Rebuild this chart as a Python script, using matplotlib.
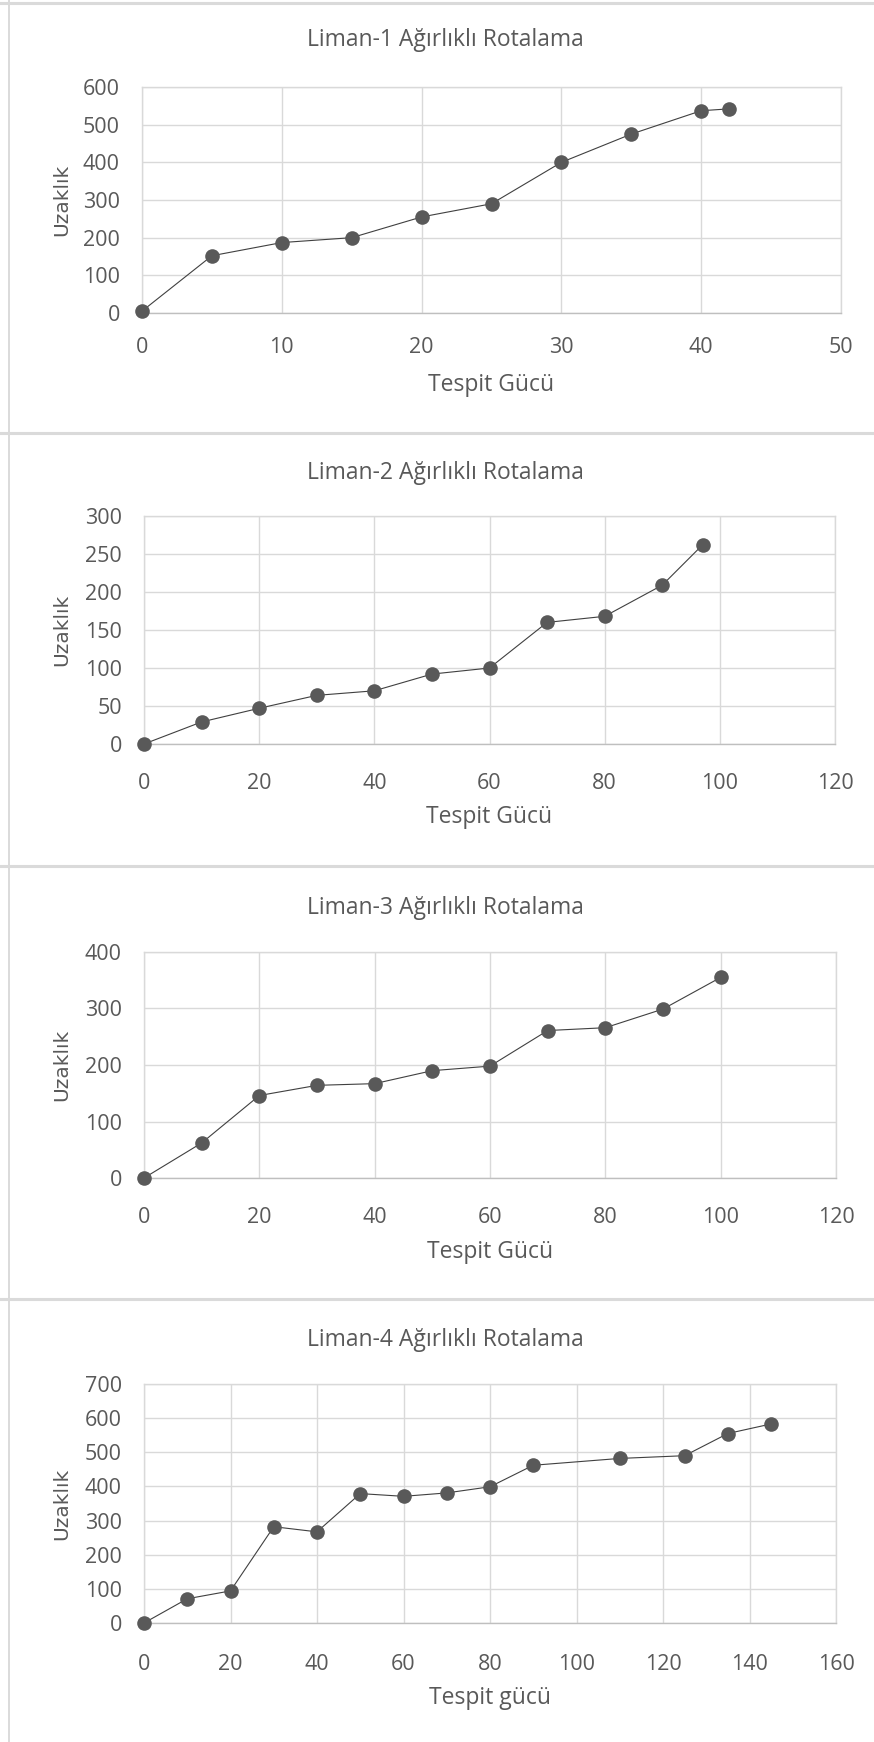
import matplotlib
matplotlib.use("Agg")
import matplotlib.pyplot as plt
from matplotlib.lines import Line2D

# Figure size in pixels
W, H = 874, 1742
DPI = 100

GRAY_TXT = "#595959"
GRID = "#d9d9d9"
AXIS = "#bfbfbf"
MARK = "#595959"

# Liman-1
liman1_x = [0, 5, 10, 15, 20, 25, 30, 35, 40, 42]
liman1_y = [5, 152, 187, 200, 255, 290, 400, 475, 537, 542]

# Liman-2
liman2_x = [0, 10, 20, 30, 40, 50, 60, 70, 80, 90, 97]
liman2_y = [0, 29, 47, 64, 70, 92, 100, 160, 168, 209, 262]

# Liman-3
liman3_x = [0, 10, 20, 30, 40, 50, 60, 70, 80, 90, 100]
liman3_y = [0, 62, 146, 164, 167, 190, 198, 261, 266, 299, 355]

# Liman-4
liman4_x = [0, 10, 20, 30, 40, 50, 60, 70, 80, 90, 110, 125, 135, 145]
liman4_y = [0, 71, 94, 282, 267, 379, 371, 381, 399, 462, 482, 490, 555, 583]

titles = ["Liman-1 Ağırlıklı Rotalama", "Liman-2 Ağırlıklı Rotalama",
          "Liman-3 Ağırlıklı Rotalama", "Liman-4 Ağırlıklı Rotalama"]
xlabels = ["Tespit Gücü", "Tespit Gücü", "Tespit Gücü", "Tespit gücü"]
ylabel = "Uzaklık"

xticks = [range(0, 51, 10), range(0, 121, 20), range(0, 121, 20), range(0, 161, 20)]
yticks = [range(0, 601, 100), range(0, 301, 50), range(0, 401, 100), range(0, 701, 100)]

series = [(liman1_x, liman1_y), (liman2_x, liman2_y),
          (liman3_x, liman3_y), (liman4_x, liman4_y)]

# plot boxes in pixels: left, right, top, bottom
boxes = [(142, 841, 87, 313), (144, 835, 516, 744),
         (144, 836, 952, 1178), (144, 836, 1384, 1623)]
title_y = [40, 473, 908, 1340]
xlabel_y = [385, 817, 1252, 1698]
xpad = [17, 21, 21, 22]

plt.rcParams["font.family"] = ["Open Sans", "DejaVu Sans"]

fig = plt.figure(figsize=(W / DPI, H / DPI), dpi=DPI)
fig.patch.set_facecolor("white")

# panel frames
for y in [3, 433, 866, 1299]:
    fig.add_artist(Line2D([0, 1], [1 - y / H, 1 - y / H], transform=fig.transFigure,
                          color="#dadada", lw=2.2))
fig.add_artist(Line2D([9 / W, 9 / W], [0, 1], transform=fig.transFigure,
                      color="#dadada", lw=1.4))

for i in range(4):
    l, r, t, b = boxes[i]
    ax = fig.add_axes([l / W, 1 - b / H, (r - l) / W, (b - t) / H])
    xs, ys = series[i]
    ax.plot(xs, ys, color="#404040", lw=0.8, zorder=3, clip_on=False)
    ax.plot(xs, ys, "o", color=MARK, ms=10.5, mew=0, zorder=4, clip_on=False)

    ax.set_xlim(xticks[i][0], xticks[i][-1])
    ax.set_ylim(yticks[i][0], yticks[i][-1])
    ax.set_xticks(list(xticks[i]))
    ax.set_yticks(list(yticks[i]))
    ax.grid(True, color=GRID, lw=1.0)
    ax.set_axisbelow(True)
    for s in ["left", "top", "right"]:
        ax.spines[s].set_color(GRID)
        ax.spines[s].set_linewidth(1.0)
    ax.spines["bottom"].set_color(AXIS)
    ax.spines["bottom"].set_linewidth(1.0)
    ax.tick_params(axis="both", length=0, labelsize=15.5, labelcolor=GRAY_TXT)
    ax.tick_params(axis="x", pad=xpad[i])
    ax.tick_params(axis="y", pad=16)

    fig.text(445 / W, 1 - title_y[i] / H, titles[i], ha="center", va="center",
             fontsize=16.5, color=GRAY_TXT)
    fig.text((l + r) / 2 / W, 1 - xlabel_y[i] / H, xlabels[i], ha="center",
             va="center", fontsize=16.5, color=GRAY_TXT)
    fig.text(62 / W, 1 - (t + b) / 2 / H, ylabel, ha="center", va="center",
             rotation=90, fontsize=14.5, color=GRAY_TXT, family="DejaVu Sans")

fig.savefig("out.png", dpi=DPI, facecolor="white")
